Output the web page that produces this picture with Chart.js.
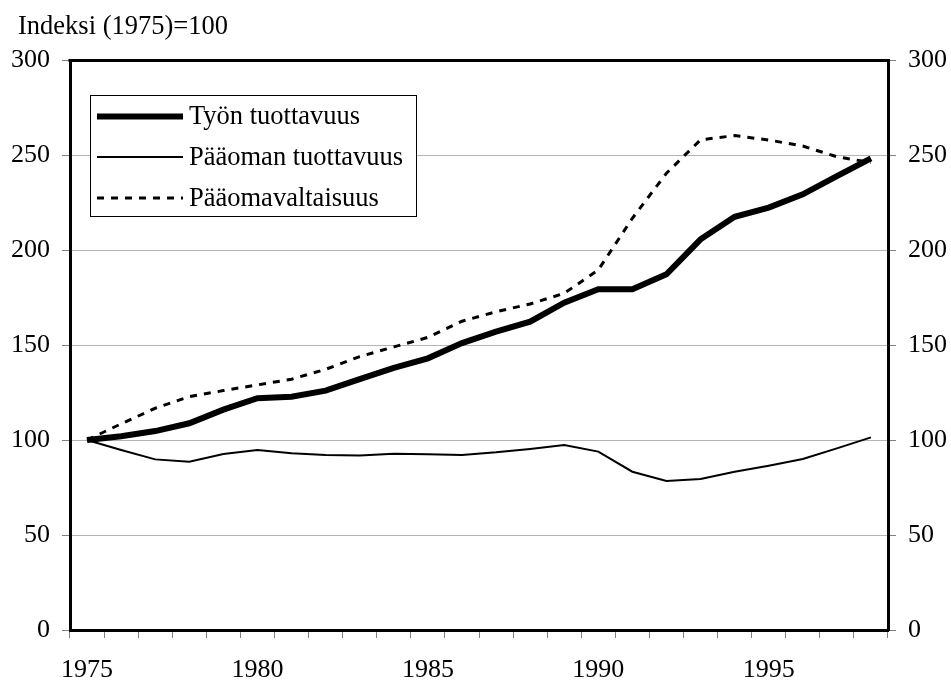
<!DOCTYPE html>
<html>
<head>
<meta charset="utf-8">
<script src="https://cdn.jsdelivr.net/npm/chart.js@4.4.1/dist/chart.umd.min.js"></script>
<style>
  html, body { margin: 0; padding: 0; background: #fff; overflow: hidden; }
  #wrap { width: 951px; height: 681px; position: relative; }
</style>
</head>
<body>
<div id="wrap"><canvas id="chart"></canvas></div>
<script>
(function () {
    'use strict';

    var years = [1975, 1976, 1977, 1978, 1979, 1980, 1981, 1982, 1983, 1984, 1985, 1986,
                 1987, 1988, 1989, 1990, 1991, 1992, 1993, 1994, 1995, 1996, 1997, 1998];

    // Työn tuottavuus
    var tyonTuottavuus = [100, 102, 104.7, 108.8, 116, 122, 122.8, 126, 132, 138, 143, 151,
                          157, 162.3, 172.3, 179.3, 179.3, 187.2, 205.6, 217.5, 222.3, 229.3, 238.9, 248.2];
    // Pääoman tuottavuus
    var paaomanTuottavuus = [100, 94.7, 89.8, 88.6, 92.6, 94.7, 93, 92.1, 91.8, 92.8, 92.5, 92.1,
                             93.5, 95.3, 97.4, 93.9, 83.3, 78.4, 79.5, 83.3, 86.5, 90, 95.6, 101.4];
    // Pääomavaltaisuus
    var paaomavaltaisuus = [100, 108.5, 116.7, 122.8, 126, 129, 132, 137.2, 143.9, 149, 154, 162.5,
                            167.5, 171.6, 177.2, 189.5, 216.7, 240.4, 258, 260.2, 257.9, 254.7, 249.1, 246];

    var yTicks = [0, 50, 100, 150, 200, 250, 300];
    var yTitle = 'Indeksi (1975)=100';

    var serif = '"Liberation Serif", "Times New Roman", serif';
    Chart.defaults.font.family = serif;
    Chart.defaults.font.size = 26;
    Chart.defaults.color = '#000';

    function gridColor(ctx) {
        var v = ctx.tick ? ctx.tick.value : null;
        return (v === yTicks[0] || v === yTicks[yTicks.length - 1]) ? 'rgba(0,0,0,0)' : '#b4b4b4';
    }

    var frameAndLegend = {
        id: 'frameAndLegend',
        beforeDatasetsDraw: function (chart) {
            var a = chart.chartArea, ctx = chart.ctx;
            ctx.save();
            ctx.strokeStyle = '#000';
            ctx.lineWidth = 3;
            ctx.beginPath();
            ctx.moveTo(a.left - 1.5, a.top + 0.5);
            ctx.lineTo(a.right + 1.5, a.top + 0.5);
            ctx.stroke();
            ctx.restore();
        },
        afterDraw: function (chart) {
            var ctx = chart.ctx;
            ctx.save();
            // axis title
            ctx.font = '26.5px ' + serif;
            ctx.fillStyle = '#000';
            ctx.textBaseline = 'alphabetic';
            ctx.textAlign = 'left';
            ctx.fillText(yTitle, 18, 34);

            // legend box
            ctx.fillStyle = '#fff';
            ctx.fillRect(90, 95, 326, 121);
            ctx.strokeStyle = '#000';
            ctx.lineWidth = 1;
            ctx.strokeRect(90.5, 95.5, 326, 121);

            var rows = [116.5, 157, 198];
            chart.data.datasets.forEach(function (ds, i) {
                var y = rows[i];
                ctx.beginPath();
                ctx.setLineDash(ds.borderDash || []);
                ctx.lineWidth = ds.borderWidth;
                ctx.strokeStyle = ds.borderColor;
                ctx.moveTo(97, y);
                ctx.lineTo(183, y);
                ctx.stroke();
                ctx.setLineDash([]);
                ctx.fillStyle = '#000';
                ctx.textBaseline = 'middle';
                ctx.fillText(ds.label, 189, y + 1);
            });
            ctx.restore();
        }
    };

    new Chart(document.getElementById('chart'), {
        type: 'line',
        data: {
            labels: years,
            datasets: [
                {
                    label: 'Työn tuottavuus',
                    data: tyonTuottavuus,
                    borderColor: '#000', borderWidth: 6,
                    pointRadius: 0, tension: 0, yAxisID: 'y'
                },
                {
                    label: 'Pääoman tuottavuus',
                    data: paaomanTuottavuus,
                    borderColor: '#000', borderWidth: 2,
                    pointRadius: 0, tension: 0, yAxisID: 'y'
                },
                {
                    label: 'Pääomavaltaisuus',
                    data: paaomavaltaisuus,
                    borderColor: '#000', borderWidth: 3, borderDash: [7, 7],
                    pointRadius: 0, tension: 0, yAxisID: 'y'
                }
            ]
        },
        options: {
            responsive: true,
            maintainAspectRatio: false,
            animation: false,
            layout: { padding: { top: 60, left: 0, right: 0, bottom: 0 } },
            plugins: { legend: { display: false }, tooltip: { enabled: false } },
            scales: {
                x: {
                    type: 'category',
                    offset: true,
                    afterFit: function (s) { s.height = 51; },
                    grid: { offset: true, drawOnChartArea: false, tickLength: 8, tickColor: '#808080', lineWidth: 1 },
                    border: { color: '#000', width: 3 },
                    ticks: {
                        autoSkip: false, maxRotation: 0, padding: 17,
                        callback: function (v, i) { return years[i] % 5 === 0 ? String(years[i]) : ''; }
                    }
                },
                y: {
                    position: 'left',
                    min: 0, max: 300,
                    afterFit: function (s) { s.width = 70; },
                    grid: { color: gridColor, tickColor: '#808080', tickLength: 8, lineWidth: 1 },
                    border: { color: '#000', width: 3 },
                    ticks: { stepSize: 50, padding: 12 }
                },
                y1: {
                    position: 'right',
                    min: 0, max: 300,
                    afterFit: function (s) { s.width = 63; },
                    grid: { drawOnChartArea: false, tickColor: '#808080', tickLength: 8, lineWidth: 1 },
                    border: { color: '#000', width: 3 },
                    ticks: { stepSize: 50, padding: 12 }
                }
            }
        },
        plugins: [frameAndLegend]
    });
})();
</script>
</body>
</html>
